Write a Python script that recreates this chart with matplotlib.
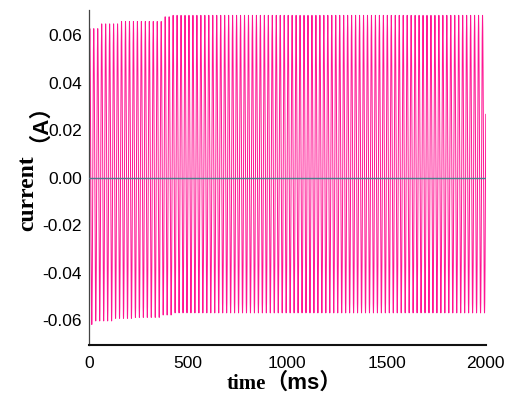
import numpy as np
import matplotlib
matplotlib.use('Agg')
import matplotlib.pyplot as plt

# envelope of the current trace (step levels)
upper_t = [0, 55, 156, 373, 408]          # ms, start of each level
upper_a = [0.063, 0.065, 0.066, 0.068, 0.0686]
lower_t = [0, 20, 122, 232, 358, 423]
lower_a = [-0.062, -0.0605, -0.0594, -0.059, -0.058, -0.0571]

freq_hz = 50.0        # supply frequency
step_ms = 0.5         # output step of the simulation
t_end = 2000

# second trace that sits on zero
zero_t = [0, 2000]
zero_y = [0.0, 0.0]

t = np.arange(0, t_end + step_ms, step_ms)
up = np.array(upper_a)[np.searchsorted(upper_t, t, side='right') - 1]
lo = np.array(lower_a)[np.searchsorted(lower_t, t, side='right') - 1]
s = np.sin(2 * np.pi * freq_hz * t / 1000.0 + 0.4)
current = np.where(s > 0, up * s, -lo * s)

fig = plt.figure(figsize=(5.06, 3.98), dpi=100)
ax = fig.add_axes([0.176, 0.133, 0.784, 0.842])

ax.plot(t, current, color='#ff1493', lw=0.7)
ax.plot(zero_t, zero_y, color='#4f7c8c', lw=1.0, zorder=3)

ax.set_xlim(0, 2000)
ax.set_ylim(-0.0705, 0.0707)
ax.set_xticks([0, 500, 1000, 1500, 2000])
ax.set_yticks([-0.06, -0.04, -0.02, 0.0, 0.02, 0.04, 0.06])
ax.set_yticklabels(['-0.06', '-0.04', '-0.02', '0.00', '0.02', '0.04', '0.06'])
ax.tick_params(length=0, labelsize=12.5)
ax.tick_params(axis='y', pad=5)
ax.tick_params(axis='x', pad=8)
for lab in ax.get_xticklabels() + ax.get_yticklabels():
    lab.set_family('Liberation Sans')

for side in ['top', 'right']:
    ax.spines[side].set_visible(False)
ax.spines['left'].set_color('#444444')
ax.spines['left'].set_linewidth(0.9)
ax.spines['bottom'].set_color('#111111')
ax.spines['bottom'].set_linewidth(1.5)

# axis titles: serif word + sans full-width bracket part
W, H = 506, 398
sans_cjk = ['Liberation Sans', 'Noto Sans CJK SC']
fig.text(246 / W, 1 - 384 / H, 'time', family='Liberation Serif', weight='bold',
         fontsize=15, ha='center', va='center')
fig.text(304 / W, 1 - 383 / H, '（ms）', family=sans_cjk,
         weight='bold', fontsize=16, ha='center', va='center')
fig.text(28 / W, 1 - 193 / H, 'current', family='Liberation Serif', weight='bold',
         fontsize=17, ha='center', va='center', rotation=90)
fig.text(28 / W, 1 - 112 / H, '（A）', family=sans_cjk,
         weight='bold', fontsize=16, ha='center', va='center', rotation=90)

fig.savefig('out.png', dpi=100)
